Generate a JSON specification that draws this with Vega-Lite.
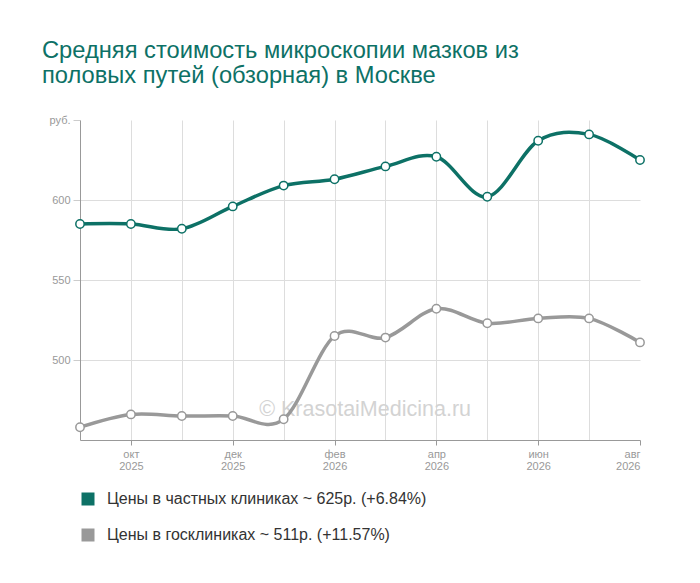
{
  "$schema": "https://vega.github.io/schema/vega-lite/v6.json",
  "autosize": "none",
  "width": 560,
  "height": 320,
  "padding": {"left": 80, "top": 120, "right": 60, "bottom": 143},
  "background": "white",
  "title": {
    "text": ["Средняя стоимость микроскопии мазков из", "половых путей (обзорная) в Москве"],
    "anchor": "start",
    "frame": "group",
    "dx": -38,
    "font": "Liberation Sans",
    "fontSize": 23.7,
    "fontWeight": "normal",
    "color": "#0d7166",
    "lineHeight": 25,
    "offset": 26
  },
  "config": {"view": {"stroke": null}, "font": "Liberation Sans"},
  "data": {
    "values": [
      {"i": 0, "s": "Цены в частных клиниках ~ 625р. (+6.84%)", "p": 585},
      {"i": 1, "s": "Цены в частных клиниках ~ 625р. (+6.84%)", "p": 585},
      {"i": 2, "s": "Цены в частных клиниках ~ 625р. (+6.84%)", "p": 582},
      {"i": 3, "s": "Цены в частных клиниках ~ 625р. (+6.84%)", "p": 596},
      {"i": 4, "s": "Цены в частных клиниках ~ 625р. (+6.84%)", "p": 609},
      {"i": 5, "s": "Цены в частных клиниках ~ 625р. (+6.84%)", "p": 613},
      {"i": 6, "s": "Цены в частных клиниках ~ 625р. (+6.84%)", "p": 621},
      {"i": 7, "s": "Цены в частных клиниках ~ 625р. (+6.84%)", "p": 627},
      {"i": 8, "s": "Цены в частных клиниках ~ 625р. (+6.84%)", "p": 602},
      {"i": 9, "s": "Цены в частных клиниках ~ 625р. (+6.84%)", "p": 637},
      {"i": 10, "s": "Цены в частных клиниках ~ 625р. (+6.84%)", "p": 641},
      {"i": 11, "s": "Цены в частных клиниках ~ 625р. (+6.84%)", "p": 625},
      {"i": 0, "s": "Цены в госклиниках ~ 511р. (+11.57%)", "p": 458},
      {"i": 1, "s": "Цены в госклиниках ~ 511р. (+11.57%)", "p": 466},
      {"i": 2, "s": "Цены в госклиниках ~ 511р. (+11.57%)", "p": 465},
      {"i": 3, "s": "Цены в госклиниках ~ 511р. (+11.57%)", "p": 465},
      {"i": 4, "s": "Цены в госклиниках ~ 511р. (+11.57%)", "p": 463},
      {"i": 5, "s": "Цены в госклиниках ~ 511р. (+11.57%)", "p": 515},
      {"i": 6, "s": "Цены в госклиниках ~ 511р. (+11.57%)", "p": 514},
      {"i": 7, "s": "Цены в госклиниках ~ 511р. (+11.57%)", "p": 532},
      {"i": 8, "s": "Цены в госклиниках ~ 511р. (+11.57%)", "p": 523},
      {"i": 9, "s": "Цены в госклиниках ~ 511р. (+11.57%)", "p": 526},
      {"i": 10, "s": "Цены в госклиниках ~ 511р. (+11.57%)", "p": 526},
      {"i": 11, "s": "Цены в госклиниках ~ 511р. (+11.57%)", "p": 511}
    ]
  },
  "layer": [
    {
      "data": {"values": [{}]},
      "mark": {"type": "text", "text": "© KrasotaiMedicina.ru", "fontSize": 21.5, "color": "#d3d3d3", "align": "center", "baseline": "middle", "font": "Liberation Sans"},
      "encoding": {
        "x": {"datum": 5.6, "type": "quantitative"},
        "y": {"datum": 468.5, "type": "quantitative"}
      }
    },
    {
      "mark": {"type": "line", "interpolate": "cardinal", "strokeWidth": 3.5},
      "encoding": {
        "x": {
          "field": "i", "type": "quantitative",
          "scale": {"domain": [0, 11], "nice": false, "zero": false},
          "axis": {
            "title": null,
            "values": [0, 1, 2, 3, 4, 5, 6, 7, 8, 9, 10, 11],
            "labelExpr": "datum.value % 2 == 1 ? [['','окт','','дек','','фев','','апр','','июн','','авг'][datum.value], datum.value < 4 ? '2025' : '2026'] : ''",
            "labelFontSize": 11,
            "labelColor": "#999999",
            "labelLineHeight": 12,
            "labelPadding": 3,
            "labelFont": "Liberation Sans",
            "domainColor": "#999999",
            "tickColor": "#999999",
            "tickSize": 5,
            "tickOpacity": {"condition": {"test": "datum.value % 2 == 1", "value": 1}, "value": 0},
            "grid": true,
            "gridColor": "#dddddd",
            "gridOpacity": {"condition": {"test": "datum.value == 0 || datum.value == 11", "value": 0}, "value": 1}
          }
        },
        "y": {
          "field": "p", "type": "quantitative",
          "scale": {"domain": [450, 650], "nice": false, "zero": false},
          "axis": {
            "title": null,
            "values": [500, 550, 600, 650],
            "labelExpr": "datum.value == 650 ? 'руб.' : datum.label",
            "labelFontSize": 11,
            "labelColor": "#999999",
            "labelFont": "Liberation Sans",
            "labelPadding": 3,
            "domainColor": "#999999",
            "tickColor": "#cccccc",
            "tickSize": 7,
            "grid": true,
            "gridColor": "#dddddd",
            "gridOpacity": {"condition": {"test": "datum.value == 650", "value": 0}, "value": 1}
          }
        },
        "color": {
          "field": "s", "type": "nominal",
          "scale": {
            "domain": ["Цены в частных клиниках ~ 625р. (+6.84%)", "Цены в госклиниках ~ 511р. (+11.57%)"],
            "range": ["#0d7166", "#999999"]
          },
          "legend": {
            "title": null,
            "orient": "none",
            "legendX": 0,
            "legendY": 371,
            "direction": "vertical",
            "labelFontSize": 16,
            "labelColor": "#333333",
            "labelFont": "Liberation Sans",
            "labelLimit": 0,
            "symbolType": "square",
            "symbolSize": 169,
            "rowPadding": 20,
            "labelOffset": 11,
            "encode": {
              "symbols": {"update": {"fill": {"scale": "color", "field": "value"}, "strokeWidth": {"value": 0}, "opacity": {"value": 1}}}
            }
          }
        }
      }
    },
    {
      "mark": {"type": "point", "filled": false, "fill": "white", "fillOpacity": 1, "size": 70, "strokeWidth": 1.5, "opacity": 1},
      "encoding": {
        "x": {"field": "i", "type": "quantitative"},
        "y": {"field": "p", "type": "quantitative"},
        "color": {"field": "s", "type": "nominal"}
      }
    }
  ]
}
